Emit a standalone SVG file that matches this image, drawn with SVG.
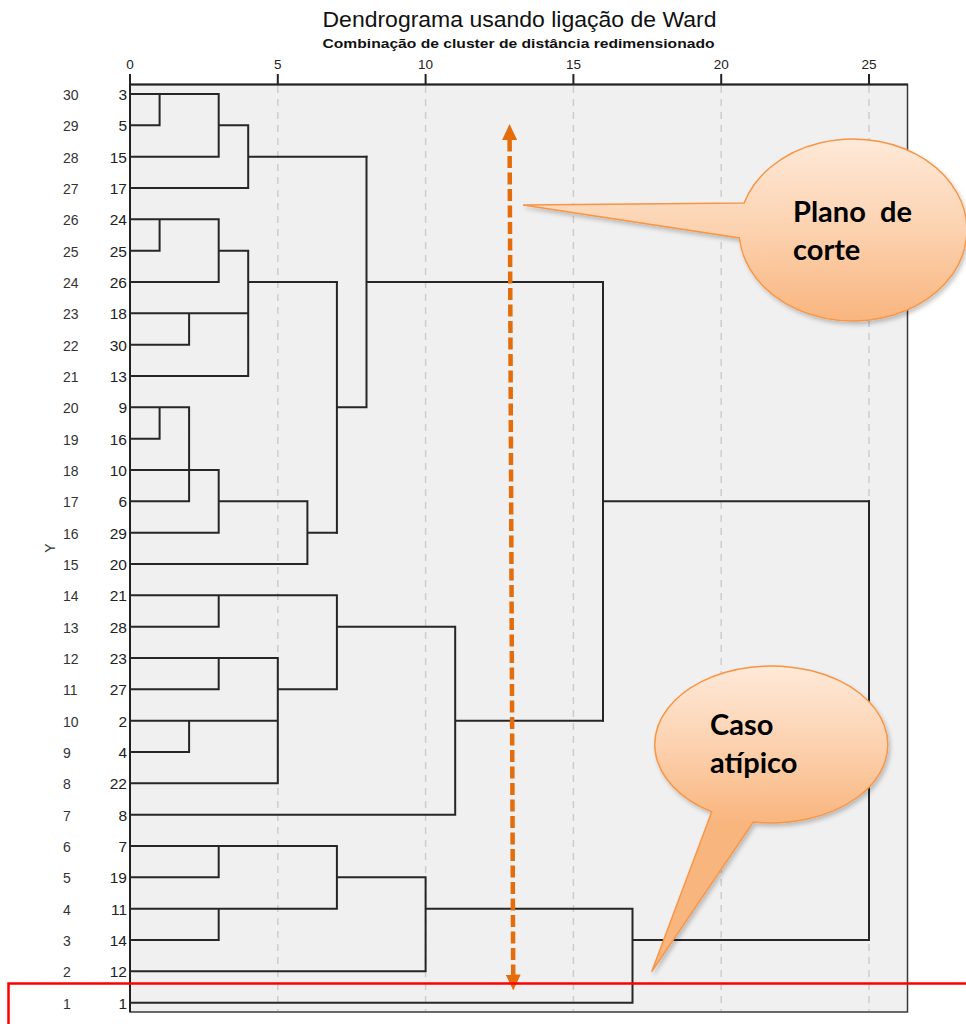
<svg xmlns="http://www.w3.org/2000/svg" width="966" height="1024" viewBox="0 0 966 1024">
  <style>
    .title { font-family: "Liberation Sans", Arial, sans-serif; font-size: 22px; fill: #111; }
    .subtitle { font-family: "Liberation Sans", Arial, sans-serif; font-size: 13px; font-weight: bold; fill: #111; }
    .tick { font-family: "Liberation Sans", Arial, sans-serif; font-size: 13.5px; fill: #222; text-anchor: middle; }
    .ypos { font-family: "Liberation Sans", Arial, sans-serif; font-size: 14px; fill: #333; }
    .case { font-family: "Liberation Sans", Arial, sans-serif; font-size: 15.5px; fill: #222; text-anchor: end; }
    .link { fill: none; stroke: #262626; stroke-width: 2; stroke-linecap: square; }
    .grid { stroke: #cdcdcd; stroke-width: 1.5; stroke-dasharray: 7 6; }
    .tickmark { stroke: #222; stroke-width: 2; }
    .bubble { stroke: #f79646; stroke-width: 1.5; filter: url(#shadow); }
    .bubbleText { font-family: Lato, "Liberation Sans", sans-serif; font-weight: bold; font-size: 29px; fill: #000; white-space: pre; }
  </style>
  <defs>
    <linearGradient id="peach1" gradientUnits="userSpaceOnUse" x1="0" y1="139" x2="0" y2="321">
      <stop offset="0" stop-color="#fee9d8"/>
      <stop offset="0.5" stop-color="#fcd2b0"/>
      <stop offset="1" stop-color="#f9b57e"/>
    </linearGradient>
    <linearGradient id="peach2" gradientUnits="userSpaceOnUse" x1="0" y1="666" x2="0" y2="823">
      <stop offset="0" stop-color="#fee9d8"/>
      <stop offset="0.5" stop-color="#fcd2b0"/>
      <stop offset="1" stop-color="#f9b57e"/>
    </linearGradient>
    <filter id="shadow" x="-10%" y="-10%" width="125%" height="125%">
      <feDropShadow dx="2" dy="3" stdDeviation="2" flood-color="#000" flood-opacity="0.22"/>
    </filter>
    <marker id="orangeHead" viewBox="0 0 16 15" markerWidth="16" markerHeight="15" markerUnits="userSpaceOnUse" refX="0.5" refY="7.5" orient="auto-start-reverse">
      <path d="M0,0 L16,7.5 L0,15 Z" fill="#e46c0a"/>
    </marker>
  </defs>

  <rect width="966" height="1024" fill="#ffffff"/>

  <!-- titles -->
  <text class="title" x="322.5" y="26.5" textLength="394" lengthAdjust="spacingAndGlyphs">Dendrograma usando ligação de Ward</text>
  <text class="subtitle" x="322.5" y="47.5" textLength="392" lengthAdjust="spacingAndGlyphs">Combinação de cluster de distância redimensionado</text>

  <!-- plot area -->
  <g id="plot-area">
    <rect x="130" y="84.5" width="777.5" height="927.5" fill="#f0f0f0" stroke="#3a3a3a" stroke-width="1.5"/>
    <line class="grid" x1="277.8" y1="86" x2="277.8" y2="1011"/>
    <line class="grid" x1="425.6" y1="86" x2="425.6" y2="1011"/>
    <line class="grid" x1="573.4" y1="86" x2="573.4" y2="1011"/>
    <line class="grid" x1="721.2" y1="86" x2="721.2" y2="1011"/>
    <line class="grid" x1="869.0" y1="86" x2="869.0" y2="1011"/>
    <line x1="129" y1="84.5" x2="908" y2="84.5" stroke="#222" stroke-width="2.2"/>
    <line x1="130" y1="84" x2="130" y2="1012" stroke="#222" stroke-width="2"/>
  </g>

  <!-- distance axis -->
  <g id="axis">
    <line class="tickmark" x1="130" y1="74" x2="130" y2="84"/>
    <line class="tickmark" x1="277.8" y1="74" x2="277.8" y2="84"/>
    <line class="tickmark" x1="425.6" y1="74" x2="425.6" y2="84"/>
    <line class="tickmark" x1="573.4" y1="74" x2="573.4" y2="84"/>
    <line class="tickmark" x1="721.2" y1="74" x2="721.2" y2="84"/>
    <line class="tickmark" x1="869.0" y1="74" x2="869.0" y2="84"/>
    <text class="tick" x="130" y="69">0</text>
    <text class="tick" x="277.8" y="69">5</text>
    <text class="tick" x="425.6" y="69">10</text>
    <text class="tick" x="573.4" y="69">15</text>
    <text class="tick" x="721.2" y="69">20</text>
    <text class="tick" x="869.0" y="69">25</text>
  </g>

  <!-- row position axis -->
  <text class="ypos" x="55" y="548" text-anchor="middle" transform="rotate(-90 55 548)">Y</text>

  <!-- leaves: position number and case number per row -->
  <g id="leaf-3"><text class="ypos" x="63" y="100">30</text><text class="case" x="127" y="100">3</text></g>
  <g id="leaf-5"><text class="ypos" x="63" y="131.3">29</text><text class="case" x="127" y="131.3">5</text></g>
  <g id="leaf-15"><text class="ypos" x="63" y="162.7">28</text><text class="case" x="127" y="162.7">15</text></g>
  <g id="leaf-17"><text class="ypos" x="63" y="194">27</text><text class="case" x="127" y="194">17</text></g>
  <g id="leaf-24"><text class="ypos" x="63" y="225.3">26</text><text class="case" x="127" y="225.3">24</text></g>
  <g id="leaf-25"><text class="ypos" x="63" y="256.7">25</text><text class="case" x="127" y="256.7">25</text></g>
  <g id="leaf-26"><text class="ypos" x="63" y="288">24</text><text class="case" x="127" y="288">26</text></g>
  <g id="leaf-18"><text class="ypos" x="63" y="319.3">23</text><text class="case" x="127" y="319.3">18</text></g>
  <g id="leaf-30"><text class="ypos" x="63" y="350.7">22</text><text class="case" x="127" y="350.7">30</text></g>
  <g id="leaf-13"><text class="ypos" x="63" y="382">21</text><text class="case" x="127" y="382">13</text></g>
  <g id="leaf-9"><text class="ypos" x="63" y="413.3">20</text><text class="case" x="127" y="413.3">9</text></g>
  <g id="leaf-16"><text class="ypos" x="63" y="444.7">19</text><text class="case" x="127" y="444.7">16</text></g>
  <g id="leaf-10"><text class="ypos" x="63" y="476">18</text><text class="case" x="127" y="476">10</text></g>
  <g id="leaf-6"><text class="ypos" x="63" y="507.3">17</text><text class="case" x="127" y="507.3">6</text></g>
  <g id="leaf-29"><text class="ypos" x="63" y="538.7">16</text><text class="case" x="127" y="538.7">29</text></g>
  <g id="leaf-20"><text class="ypos" x="63" y="570">15</text><text class="case" x="127" y="570">20</text></g>
  <g id="leaf-21"><text class="ypos" x="63" y="601.3">14</text><text class="case" x="127" y="601.3">21</text></g>
  <g id="leaf-28"><text class="ypos" x="63" y="632.7">13</text><text class="case" x="127" y="632.7">28</text></g>
  <g id="leaf-23"><text class="ypos" x="63" y="664">12</text><text class="case" x="127" y="664">23</text></g>
  <g id="leaf-27"><text class="ypos" x="63" y="695.3">11</text><text class="case" x="127" y="695.3">27</text></g>
  <g id="leaf-2"><text class="ypos" x="63" y="726.7">10</text><text class="case" x="127" y="726.7">2</text></g>
  <g id="leaf-4"><text class="ypos" x="63" y="758">9</text><text class="case" x="127" y="758">4</text></g>
  <g id="leaf-22"><text class="ypos" x="63" y="789.3">8</text><text class="case" x="127" y="789.3">22</text></g>
  <g id="leaf-8"><text class="ypos" x="63" y="820.7">7</text><text class="case" x="127" y="820.7">8</text></g>
  <g id="leaf-7"><text class="ypos" x="63" y="852">6</text><text class="case" x="127" y="852">7</text></g>
  <g id="leaf-19"><text class="ypos" x="63" y="883.3">5</text><text class="case" x="127" y="883.3">19</text></g>
  <g id="leaf-11"><text class="ypos" x="63" y="914.7">4</text><text class="case" x="127" y="914.7">11</text></g>
  <g id="leaf-14"><text class="ypos" x="63" y="946">3</text><text class="case" x="127" y="946">14</text></g>
  <g id="leaf-12"><text class="ypos" x="63" y="977.3">2</text><text class="case" x="127" y="977.3">12</text></g>
  <g id="leaf-1"><text class="ypos" x="63" y="1008.7">1</text><text class="case" x="127" y="1008.7">1</text></g>

  <!-- dendrogram links (Ward merges) -->
  <g id="connectors" class="link">
    <!-- cluster 3,5,15,17 -->
    <path d="M130,94 H218.7 M130,125.3 H159.6 M159.6,94 V125.3 M130,156.7 H218.7 M218.7,94 V156.7 M218.7,125.3 H248.2 M130,188 H248.2 M248.2,125.3 V188 M248.2,156.7 H366.5"/>
    <!-- cluster 24,25,26,18,30,13 -->
    <path d="M130,219.3 H218.7 M130,250.7 H159.6 M159.6,219.3 V250.7 M130,282 H218.7 M218.7,219.3 V282 M218.7,250.7 H248.2 M130,313.3 H248.2 M130,344.7 H189.1 M189.1,313.3 V344.7 M130,376 H248.2 M248.2,250.7 V376 M248.2,282 H336.9"/>
    <!-- cluster 9,16,10,6,29,20 -->
    <path d="M130,407.3 H189.1 M130,438.7 H159.6 M159.6,407.3 V438.7 M130,501.3 H189.1 M189.1,407.3 V501.3 M130,470 H218.7 M218.7,470 V532.7 M130,532.7 H218.7 M218.7,501.3 H307.4 M130,564 H307.4 M307.4,501.3 V564 M307.4,532.7 H336.9"/>
    <path d="M336.9,282 V532.7 M336.9,407.3 H366.5 M366.5,156.7 V407.3 M366.5,282 H603"/>
    <!-- cluster 21,28,23,27,2,4,22,8 -->
    <path d="M130,595.3 H336.9 M130,626.7 H218.7 M218.7,595.3 V626.7 M130,658 H277.8 M130,689.3 H218.7 M218.7,658 V689.3 M130,720.7 H277.8 M130,752 H189.1 M189.1,720.7 V752 M130,783.3 H277.8 M277.8,658 V783.3 M277.8,689.3 H336.9 M336.9,595.3 V689.3 M336.9,626.7 H455.2 M130,814.7 H455.2 M455.2,626.7 V814.7 M455.2,720.7 H603"/>
    <path d="M603,282 V720.7 M603,501.3 H869"/>
    <!-- cluster 7,19,11,14,12,1 -->
    <path d="M130,846 H336.9 M130,877.3 H218.7 M218.7,846 V877.3 M130,908.7 H336.9 M130,940 H218.7 M218.7,908.7 V940 M336.9,846 V908.7 M336.9,877.3 H425.6 M130,971.3 H425.6 M425.6,877.3 V971.3 M425.6,908.7 H632.5 M130,1002.7 H632.5 M632.5,908.7 V1002.7 M632.5,940 H869"/>
    <path d="M869,501.3 V940"/>
  </g>

  <!-- cut plane: double-headed dashed arrow -->
  <g id="cut-arrow">
    <line x1="509.6" y1="139.5" x2="513.2" y2="975" stroke="#e46c0a" stroke-width="4.5" stroke-dasharray="12 4.5" marker-start="url(#orangeHead)" marker-end="url(#orangeHead)"/>
  </g>

  <!-- callout: cut plane -->
  <g id="callout-plano">
    <path class="bubble" fill="url(#peach1)" d="M744.1,203 A114 91 0 1 1 739.4,238 L523,205 Z"/>
    <text class="bubbleText" x="793" y="221.7">Plano  de</text>
    <text class="bubbleText" x="793" y="260">corte</text>
  </g>

  <!-- callout: outlier -->
  <g id="callout-caso">
    <path class="bubble" fill="url(#peach2)" d="M753.3,822 A116.5 78.5 0 1 0 711.7,811.9 L651.7,971.7 Z"/>
    <text class="bubbleText" x="710" y="735">Caso</text>
    <text class="bubbleText" x="710" y="773">atípico</text>
  </g>

  <!-- highlight of the outlier row -->
  <rect id="outlier-box" x="8.5" y="983.5" width="980" height="60" fill="none" stroke="#ff0000" stroke-width="2.5"/>
</svg>
